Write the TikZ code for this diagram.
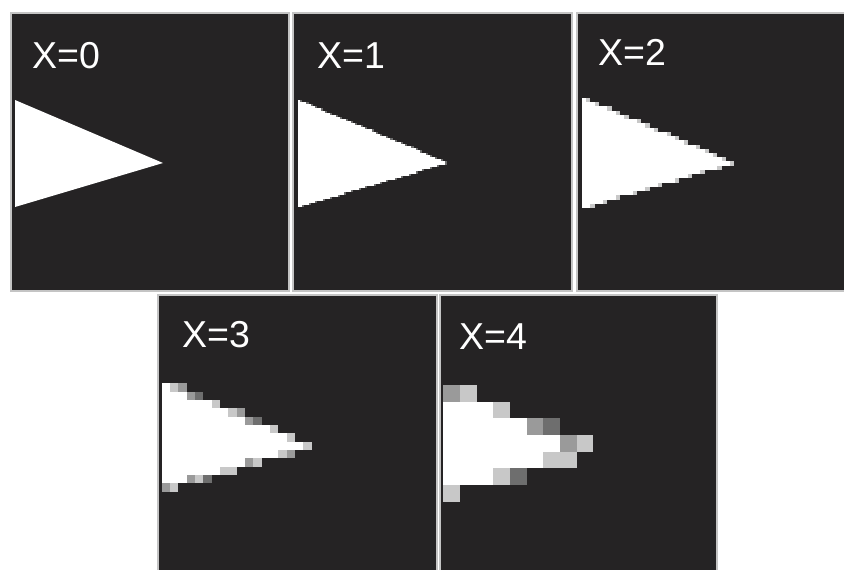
\documentclass[tikz,border=0pt]{standalone}
\usepackage{fontspec}
\setmainfont{Liberation Sans}
\definecolor{panelbg}{HTML}{252324}
\definecolor{rimgray}{HTML}{C4C4C4}
\definecolor{gl}{HTML}{C8C8C8}
\definecolor{gm}{HTML}{9A9A9A}
\definecolor{gd}{HTML}{6E6E6E}
\tikzset{
  panel/.style={fill=panelbg, draw=rimgray, line width=1.5pt},
  lbl/.style={anchor=base west, inner sep=0pt, text=white, font=\fontsize{37.5}{40}\selectfont},
}
% raster triangle: #1 x0, #2 ytop, #3 ybot, #4 xtip, #5 ytip, #6 cell, #7 rows, #8 edge colour
\newcommand\rastri[8]{%
  \pgfmathtruncatemacro\nrows{#7-1}%
  \foreach \rr in {0,...,\nrows}{%
    \pgfmathsetmacro\yc{#2+(\rr+0.5)*#6}%
    \pgfmathsetmacro\xr{(\yc<#5) ? (#1+(\yc-#2)/(#5-#2)*(#4-#1)) : (#1+(#3-\yc)/(#3-#5)*(#4-#1))}%
    \pgfmathtruncatemacro\nc{round((\xr-#1)/#6)}%
    \fill[white] (#1,{#2+\rr*#6}) rectangle ({#1+\nc*#6},{#2+(\rr+1)*#6});
    \fill[#8] ({#1+\nc*#6},{#2+\rr*#6}) rectangle ({#1+(\nc+1)*#6},{#2+(\rr+1)*#6});
  }%
}
% cell: #1 x0, #2 y0, #3 size, #4 col, #5 row, #6 colour
\newcommand\cellat[6]{\fill[#6] ({#1+#4*#3},{#2+#5*#3}) rectangle ({#1+(#4+1)*#3},{#2+(#5+1)*#3});}
% white run: #1 x0, #2 y0, #3 size, #4 row, #5 ncells
\newcommand\whiterun[5]{\fill[white] (#1,{#2+#4*#3}) rectangle ({#1+#5*#3},{#2+(#4+1)*#3});}
\begin{document}
\begin{tikzpicture}[x=1pt,y=-1pt]
\useasboundingbox (0,0) rectangle (844,570);
\fill[white] (0,0) rectangle (844,570);
\clip (0,0) rectangle (844,570);
% panels
\draw[panel] (11,13) rectangle (289,291);
\draw[panel] (293,13) rectangle (572,291);
\draw[panel] (577,13) rectangle (850,291);
\draw[panel] (158,295) rectangle (437,576);
\draw[panel] (440,295) rectangle (717,576);
% X=0
\fill[white] (15,100) -- (163,163) -- (15,207) -- cycle;
% X=1
\rastri{298}{100}{207}{448}{163}{2.1}{51}{gd}
% X=2
\rastri{582}{98}{208}{732}{163}{4.23}{26}{gl}
% X=3
\def\ax{161.7}\def\ay{383.3}\def\ap{8.33}
\foreach \rw/\nw in {0/1,1/3,2/6,3/8,4/10,5/13,6/15,7/17,8/14,9/10,10/7,11/3}{\whiterun{\ax}{\ay}{\ap}{\rw}{\nw}}
\foreach \cc/\rw/\cl in {1/0/gl,2/0/gm,3/1/gm,4/1/gd,6/2/gl,8/3/gl,9/3/gm,10/4/gm,11/4/gd,
  13/5/gl,15/6/gl,17/7/gl,14/8/gl,15/8/gm,10/9/gm,11/9/gl,7/10/gl,8/10/gl,
  3/11/gm,4/11/gl,5/11/gd,0/12/gm,1/12/gl}{\cellat{\ax}{\ay}{\ap}{\cc}{\rw}{\cl}}
% X=4
\def\bx{443.3}\def\by{385}\def\bp{16.67}
\foreach \rw/\nw in {1/3,2/5,3/7,4/6,5/3}{\whiterun{\bx}{\by}{\bp}{\rw}{\nw}}
\foreach \cc/\rw/\cl in {0/0/gm,1/0/gl,3/1/gl,5/2/gm,6/2/gd,7/3/gm,8/3/gl,6/4/gl,7/4/gl,
  3/5/gl,4/5/gd,0/6/gl}{\cellat{\bx}{\by}{\bp}{\cc}{\rw}{\cl}}
% labels
\node[lbl] (l0) at (32,68) {X=0};
\node[lbl] (l1) at (317,68) {X=1};
\node[lbl] (l2) at (598,65) {X=2};
\node[lbl] (l3) at (182,347) {X=3};
\node[lbl] (l4) at (459,349) {X=4};
\end{tikzpicture}
\end{document}
